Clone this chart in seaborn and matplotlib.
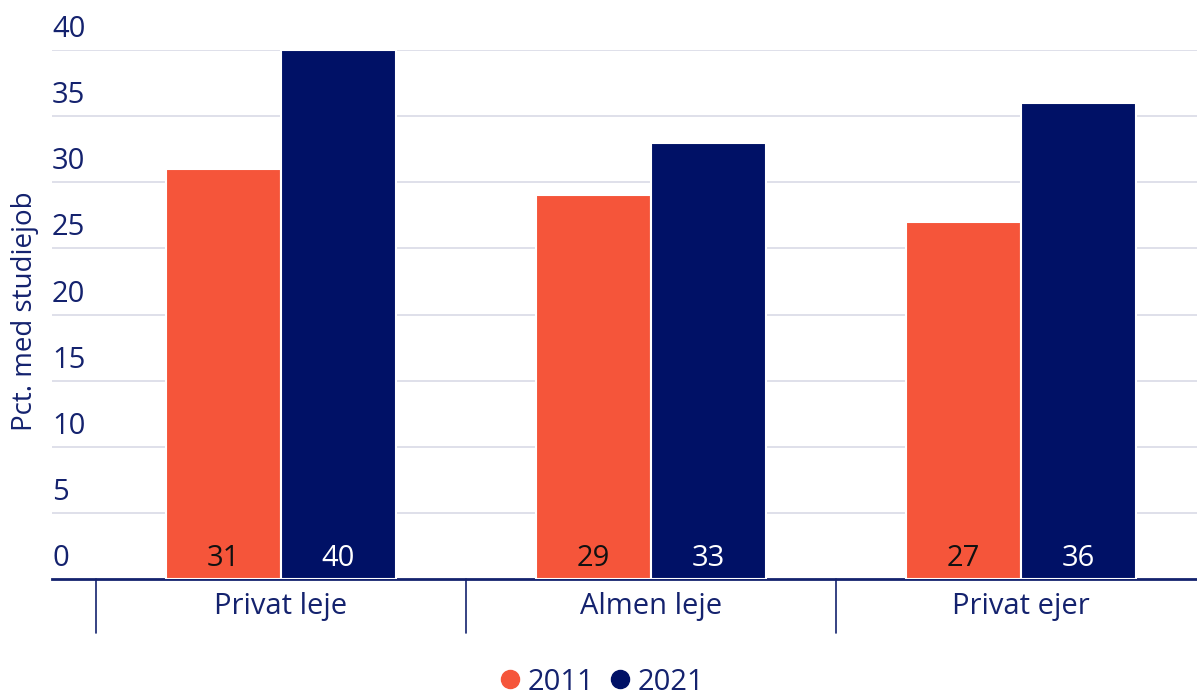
import matplotlib
matplotlib.use("Agg")
import matplotlib.pyplot as plt
import matplotlib.transforms as mtransforms
from matplotlib.lines import Line2D
import seaborn as sns
import pandas as pd

categories = ["Privat leje", "Almen leje", "Privat ejer"]
years = ["2011", "2021"]
values_2011 = [31, 29, 27]
values_2021 = [40, 33, 36]
y_ticks = [0, 5, 10, 15, 20, 25, 30, 35, 40]
y_label = "Pct. med studiejob"

ORANGE = "#F5553A"
NAVY = "#001166"
TEXT = "#14226E"
GRID = "#D9DAE6"

df = pd.DataFrame({
    "kategori": categories * 2,
    "aar": [years[0]] * 3 + [years[1]] * 3,
    "pct": values_2011 + values_2021,
})

sns.set_theme(style="white")
plt.rcParams["font.family"] = ["Open Sans", "DejaVu Sans"]

FS = 21

fig = plt.figure(figsize=(11.97, 6.96), dpi=100)
ax = fig.add_axes([52 / 1197, 1 - 579 / 696, 1 - 52 / 1197, (579 - 50) / 696])

sns.barplot(data=df, x="kategori", y="pct", hue="aar", order=categories,
            hue_order=years, palette=[ORANGE, NAVY], saturation=1, width=0.62,
            edgecolor="white", linewidth=1.5, ax=ax, legend=False, zorder=3)

ax.set_xlim(-0.619, 2.476)
ax.set_ylim(0, 40)
ax.set_yticks(y_ticks)
ax.set_yticklabels([])
ax.tick_params(axis="both", length=0)
for t in y_ticks[1:]:
    ax.axhline(t, color=GRID, lw=1.2, zorder=1)
for t in y_ticks:
    ax.text(0.0, t + 0.45, str(t), transform=mtransforms.blended_transform_factory(ax.transAxes, ax.transData),
            ha="left", va="bottom", fontsize=FS, color=TEXT)

for s in ["top", "right", "left"]:
    ax.spines[s].set_visible(False)
ax.spines["bottom"].set_color(TEXT)
ax.spines["bottom"].set_linewidth(2)

ax.set_xlabel("")
ax.set_xticklabels([])
trans = mtransforms.blended_transform_factory(ax.transData, ax.transAxes)
for i, c in enumerate(categories):
    ax.text(i, -0.052, c, transform=trans, ha="center", va="center", fontsize=FS, color=TEXT)
for b in [-0.5, 0.5, 1.5, 2.5]:
    ax.plot([b, b], [0, -0.102], transform=trans, color=TEXT, lw=1.2, clip_on=False)

# value labels at the bottom of the bars
for j, container in enumerate(ax.containers):
    col = "#111111" if j == 0 else "white"
    for patch, v in zip(container.patches, [values_2011, values_2021][j]):
        ax.text(patch.get_x() + patch.get_width() / 2, 0.45, f"{v}", ha="center", va="bottom",
                fontsize=FS, color=col, zorder=5)

ax.set_ylabel(y_label, fontsize=20, color=TEXT)
ax.yaxis.set_label_coords(-0.011, 0.507)

handles = [Line2D([], [], marker="o", ls="", markersize=13, color=ORANGE),
           Line2D([], [], marker="o", ls="", markersize=13, color=NAVY)]
leg = fig.legend(handles, years, loc="center", bbox_to_anchor=(600 / 1197, 1 - 682 / 696),
                 ncol=2, frameon=False, fontsize=FS, handletextpad=0.1, columnspacing=0.4,
                 handlelength=1.0)
for t in leg.get_texts():
    t.set_color(TEXT)

fig.savefig("out.png", dpi=100)
